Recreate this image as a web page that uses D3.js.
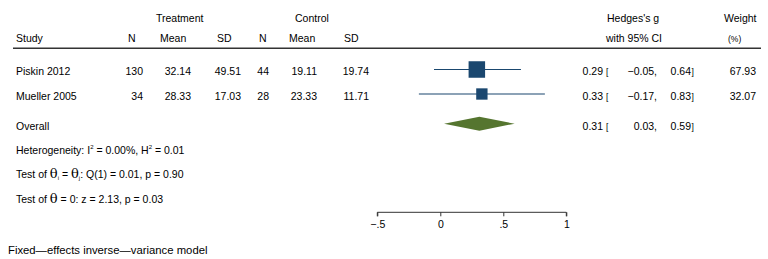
<!DOCTYPE html>
<html><head><meta charset="utf-8">
<script src="https://cdn.jsdelivr.net/npm/d3@7"></script>
<style>
html,body{margin:0;padding:0;background:#fff;}
svg text{font-family:"Liberation Sans",Arial,Helvetica,sans-serif;font-size:10.5px;fill:#000;}
</style></head>
<body>
<svg id="c" width="768" height="259"></svg>
<script>
// ---- data ----
const studies = ["Piskin 2012", "Mueller 2005"];
const tN = [130, 34];
const tMean = ["32.14", "28.33"];
const tSD = ["49.51", "17.03"];
const cN = [44, 28];
const cMean = ["19.11", "23.33"];
const cSD = ["19.74", "11.71"];
const g = [0.29, 0.33];
const lo = [-0.05, -0.17];
const hi = [0.64, 0.83];
const weight = [67.93, 32.07];
const overall = {g: 0.31, lo: 0.03, hi: 0.59};
const ticks = [-0.5, 0, 0.5, 1];
const tickLabels = ["\u2212.5", "0", ".5", "1"];

const fmt = v => (v < 0 ? "\u2212" : "") + Math.abs(v).toFixed(2);

const svg = d3.select("#c");
const x = d3.scaleLinear().domain([-0.5, 1]).range([377.3, 566.3]);
const yRow = d3.scalePoint().domain(studies).range([69.5, 94]);
const side = d3.scaleSqrt().domain([0, 67.93]).range([0, 16.5]);
const navy = "#1a476f", green = "#55752f";

function txt(s, xx, yy, anchor) {
  return svg.append("text").attr("x", xx).attr("y", yy)
    .attr("text-anchor", anchor || "start").text(s);
}

// headers
txt("Treatment", 156, 21.5);
txt("Control", 295, 21.5);
txt("Hedges's g", 607, 21.5);
txt("Weight", 724, 21.5);
txt("Study", 16, 42);
txt("N", 128, 42);
txt("Mean", 160, 42);
txt("SD", 217, 42);
txt("N", 259, 42);
txt("Mean", 289, 42);
txt("SD", 344, 42);
txt("with 95% CI", 606, 42);
svg.append("text").attr("x", 728).attr("y", 42).style("font-size", "8.5px").text("(%)");
svg.append("line").attr("x1", 13).attr("x2", 761).attr("y1", 48.3).attr("y2", 48.3)
  .attr("stroke", "#333").attr("stroke-width", 1.6);

// study rows
studies.forEach((s, i) => {
  const cy = yRow(s), ty = cy + 5.8;
  txt(s, 16, ty);
  txt(tN[i], 143, ty, "end");
  txt(tMean[i], 191, ty, "end");
  txt(tSD[i], 241, ty, "end");
  txt(cN[i], 269, ty, "end");
  txt(cMean[i], 317, ty, "end");
  txt(cSD[i], 369, ty, "end");
  txt(fmt(g[i]), 603, ty, "end");
  svg.append("text").attr("x", 606).attr("y", ty).style("font-size", "8.5px").text("[");
  txt(fmt(lo[i]) + ",", 657, ty, "end");
  txt(fmt(hi[i]), 691, ty, "end");
  svg.append("text").attr("x", 691.5).attr("y", ty).style("font-size", "8.5px").text("]");
  txt(weight[i].toFixed(2), 756, ty, "end");
  svg.append("line").attr("x1", x(lo[i])).attr("x2", x(hi[i]))
    .attr("y1", cy).attr("y2", cy).attr("stroke", navy).attr("stroke-width", 1.2);
  const w = side(weight[i]);
  svg.append("rect").attr("x", x(g[i]) - w / 2).attr("y", cy - w / 2)
    .attr("width", w).attr("height", w).attr("fill", navy);
});

// overall
const oy = 123.7, oty = 129.5;
txt("Overall", 16, oty);
svg.append("path").attr("fill", green)
  .attr("d", `M${x(overall.lo)},${oy} L${x(overall.g)},${oy - 7} L${x(overall.hi)},${oy} L${x(overall.g)},${oy + 7} Z`);
txt(fmt(overall.g), 603, oty, "end");
svg.append("text").attr("x", 606).attr("y", oty).style("font-size", "8.5px").text("[");
txt(fmt(overall.lo) + ",", 657, oty, "end");
txt(fmt(overall.hi), 691, oty, "end");
svg.append("text").attr("x", 691.5).attr("y", oty).style("font-size", "8.5px").text("]");

// heterogeneity text
const h = svg.append("text").attr("x", 16).attr("y", 154);
h.append("tspan").text("Heterogeneity: I");
h.append("tspan").attr("dy", -5).style("font-size", "6px").text("2");
h.append("tspan").attr("dy", 5).text(" = 0.00%, H");
h.append("tspan").attr("dy", -5).style("font-size", "6px").text("2");
h.append("tspan").attr("dy", 5).text(" = 0.01");

const t1 = svg.append("text").attr("x", 16).attr("y", 178.2);
t1.append("tspan").text("Test of ");
t1.append("tspan").style("font-family", "DejaVu Serif").style("font-size", "13px").text("\u03b8");
t1.append("tspan").attr("dy", 2).style("font-size", "6px").text("i");
t1.append("tspan").attr("dy", -2).text(" = ");
t1.append("tspan").style("font-family", "DejaVu Serif").style("font-size", "13px").text("\u03b8");
t1.append("tspan").attr("dy", 2).style("font-size", "6px").text("j");
t1.append("tspan").attr("dy", -2).text(": Q(1) = 0.01, p = 0.90");

const t2 = svg.append("text").attr("x", 16).attr("y", 202.8);
t2.append("tspan").text("Test of ");
t2.append("tspan").style("font-family", "DejaVu Serif").style("font-size", "13px").text("\u03b8");
t2.append("tspan").text(" = 0: z = 2.13, p = 0.03");

svg.append("text").attr("x", 8).attr("y", 254).style("font-size", "11.3px")
  .text("Fixed\u2014effects inverse\u2014variance model");

// axis
const axis = d3.axisBottom(x).tickValues(ticks).tickSize(4).tickPadding(4)
  .tickFormat((d, i) => tickLabels[i]);
const ag = svg.append("g").attr("transform", "translate(0,212.3)").call(axis);
ag.select(".domain").attr("stroke", "#333").attr("d", `M${x(-0.5)},4V0H${x(1)}V4`);
ag.selectAll(".tick line").attr("stroke", "#333");
ag.selectAll(".tick text").attr("font-family", null).attr("font-size", null).style("fill", "#000");
</script>
</body></html>
